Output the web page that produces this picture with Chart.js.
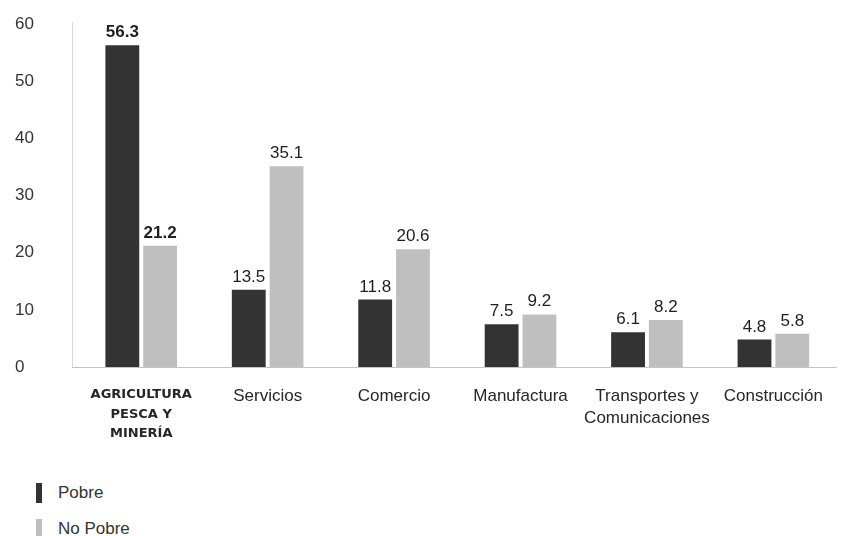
<!DOCTYPE html>
<html>
<head>
<meta charset="utf-8">
<script src="https://cdn.jsdelivr.net/npm/chart.js@4.4.1/dist/chart.umd.min.js"></script>
<style>
  html, body { margin: 0; padding: 0; background: #fff; overflow: hidden; }
  #wrap { position: relative; width: 841px; height: 536px; }
  #legend { position: absolute; left: 36px; top: 482px; font-family: "Liberation Sans", Arial, sans-serif; font-size: 17px; color: #333; }
  .item { display: flex; align-items: center; height: 22px; margin-bottom: 14px; }
  .swatch { width: 6px; height: 20px; margin-right: 16px; }
</style>
</head>
<body>
<div id="wrap">
  <canvas id="sector-chart" width="841" height="460"></canvas>
  <div id="legend"></div>
</div>
<script>
const categories = [
  ['AGRICULTURA', 'PESCA Y', 'MINERÍA'],
  'Servicios',
  'Comercio',
  'Manufactura',
  ['Transportes y', 'Comunicaciones'],
  'Construcción'
];
const pobre = [56.3, 13.5, 11.8, 7.5, 6.1, 4.8];
const noPobre = [21.2, 35.1, 20.6, 9.2, 8.2, 5.8];
const yTicks = [0, 10, 20, 30, 40, 50, 60];

const FONT = '"Liberation Sans", Arial, sans-serif';

// axis lines sit a little left of the first category
const axisLines = {
  id: 'axisLines',
  beforeDatasetsDraw(chart) {
    const { ctx, chartArea } = chart;
    const y0 = chart.scales.y.getPixelForValue(0);
    ctx.save();
    ctx.lineWidth = 1;
    ctx.strokeStyle = '#d9d9d9';
    ctx.beginPath();
    ctx.moveTo(72.5, chartArea.top - 2);
    ctx.lineTo(72.5, y0);
    ctx.stroke();
    ctx.strokeStyle = '#c4c4c4';
    ctx.beginPath();
    ctx.moveTo(72, Math.round(y0) + 0.5);
    ctx.lineTo(chartArea.right, Math.round(y0) + 0.5);
    ctx.stroke();
    ctx.restore();
  }
};

// value labels on top of each bar
const barValues = {
  id: 'barValues',
  afterDatasetsDraw(chart) {
    const { ctx } = chart;
    ctx.save();
    ctx.textAlign = 'center';
    ctx.textBaseline = 'alphabetic';
    ctx.fillStyle = '#1e1e1e';
    chart.data.datasets.forEach((ds, i) => {
      chart.getDatasetMeta(i).data.forEach((bar, j) => {
        ctx.font = (j === 0 ? 'bold ' : '') + '17px ' + FONT;
        ctx.fillText(ds.data[j].toFixed(1), bar.x, bar.y - 8);
      });
    });
    ctx.restore();
  }
};

const chart = new Chart(document.getElementById('sector-chart'), {
  type: 'bar',
  data: {
    labels: categories,
    datasets: [
      { label: 'Pobre', data: pobre, backgroundColor: '#333333' },
      { label: 'No Pobre', data: noPobre, backgroundColor: '#bfbfbf' }
    ]
  },
  options: {
    responsive: false,
    animation: false,
    devicePixelRatio: 1,
    categoryPercentage: 0.598,
    barPercentage: 0.895,
    layout: { padding: { top: 24, right: 0, left: 15, bottom: 0 } },
    plugins: {
      legend: { display: false },
      tooltip: { enabled: false }
    },
    scales: {
      x: {
        grid: { display: false, drawTicks: false },
        border: { display: false },
        afterFit(scale) { scale.height = 93; },
        ticks: {
          padding: 18,
          maxRotation: 0,
          autoSkip: false,
          color: '#262626',
          font: (ctx) => ctx.index === 0
            ? { family: '"DejaVu Sans", Arial, sans-serif', size: 13, weight: 'bold', lineHeight: 1.5 }
            : { family: FONT, size: 17, lineHeight: 1.3 }
        }
      },
      y: {
        min: 0,
        max: 60,
        afterFit(scale) {
          scale.width = 63;
          scale.paddingTop = 0;
          scale.paddingBottom = 0;
        },
        afterBuildTicks(scale) { scale.ticks = yTicks.map(v => ({ value: v })); },
        grid: { display: false, drawTicks: false },
        border: { display: false },
        ticks: {
          padding: 0,
          crossAlign: 'far',
          color: '#333',
          font: { family: FONT, size: 17 }
        }
      }
    }
  },
  plugins: [axisLines, barValues]
});

// legend stacked vertically under the chart
const legend = document.getElementById('legend');
chart.data.datasets.forEach(ds => {
  const item = document.createElement('div');
  item.className = 'item';
  const sw = document.createElement('span');
  sw.className = 'swatch';
  sw.style.background = ds.backgroundColor;
  const txt = document.createElement('span');
  txt.textContent = ds.label;
  item.appendChild(sw);
  item.appendChild(txt);
  legend.appendChild(item);
});
</script>
</body>
</html>
